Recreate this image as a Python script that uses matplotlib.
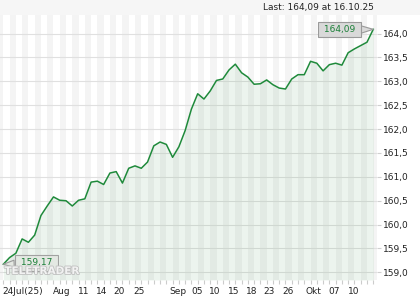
import matplotlib
matplotlib.use('Agg')
import matplotlib.pyplot as plt
from matplotlib.ticker import FixedLocator, FuncFormatter, MultipleLocator
import matplotlib.patheffects as pe
from matplotlib.patches import Rectangle

prices = [159.17, 159.31, 159.40, 159.70, 159.63, 159.78, 160.19, 160.39, 160.58, 160.51,
          160.50, 160.39, 160.51, 160.54, 160.89, 160.91, 160.84, 161.08, 161.11, 160.87,
          161.18, 161.23, 161.18, 161.31, 161.65, 161.73, 161.68, 161.41, 161.63, 161.97,
          162.42, 162.74, 162.63, 162.80, 163.02, 163.05, 163.24, 163.36, 163.18, 163.09,
          162.94, 162.95, 163.03, 162.93, 162.86, 162.84, 163.05, 163.14, 163.14, 163.42,
          163.38, 163.22, 163.35, 163.38, 163.34, 163.60, 163.68, 163.75, 163.82, 164.09]
x_labels = ['24Jul(25)', 'Aug', '11', '14', '20', '25', 'Sep', '05', '10', '15', '18',
            '23', '26', 'Okt', '07', '10']
x_label_pos = [-0.1, 9.31, 12.76, 15.63, 18.45, 21.59, 27.91, 30.85, 33.76, 36.71, 39.54,
               42.46, 45.37, 49.43, 52.82, 55.82]
header_text = 'Last: 164,09 at 16.10.25'
first_label = '159,17'
last_label = '164,09'
watermark = 'TELETRADER'

FS = 6.5
plt.rcParams['font.family'] = ['DejaVu Sans']

W, H = 420, 300
fig = plt.figure(figsize=(W / 100, H / 100), dpi=100)
fig.patch.set_facecolor('white')
fig.patches.append(Rectangle((0, 1 - 15 / H), 1, 15 / H, transform=fig.transFigure,
                             facecolor='#f6f6f6', edgecolor='none', zorder=0))
ax = fig.add_axes([0, 20 / H, 376.7 / W, 265 / H])
ax.set_facecolor('white')

n = len(prices)
xs = list(range(n))
x_min, x_max = -0.53, n - 1 + 0.55
y_min, y_max = 158.84, 164.39
ax.set_xlim(x_min, x_max)
ax.set_ylim(y_min, y_max)

# alternating day stripes
ax.axvspan(x_min, 0, color='#f4f4f4', lw=0, zorder=0.1)
for i in range(1, n, 2):
    ax.axvspan(i, min(i + 1, x_max), color='#f4f4f4', lw=0, zorder=0.1)

ax.set_axisbelow(True)
ax.grid(axis='y', color='#e0e0e0', lw=0.8)
ax.grid(axis='x', visible=False)

ax.fill_between(xs, prices, y_min, color='#2e8b3e', alpha=0.085, lw=0, zorder=1)
ax.plot(xs, prices, color='#1f8a3b', lw=1.1, zorder=3, solid_joinstyle='round')

for s in ax.spines.values():
    s.set_visible(False)

# y axis right
ax.yaxis.tick_right()
ax.yaxis.set_major_locator(MultipleLocator(0.5))
ax.yaxis.set_major_formatter(FuncFormatter(lambda v, p: f'{v:.1f}'.replace('.', ',')))
ax.tick_params(axis='y', length=3, color='#d0d0d0', width=0.8, pad=1.5,
               labelsize=FS, labelcolor='#222222')

# x axis
ax.xaxis.set_major_locator(FixedLocator(x_label_pos))
ax.set_xticklabels(x_labels)
ax.xaxis.set_minor_locator(FixedLocator(xs))
ax.tick_params(axis='x', which='major', length=0, pad=5, labelsize=FS, labelcolor='#222222')
ax.tick_params(axis='x', which='minor', length=3, color='#cccccc', width=0.8)
ax.get_xticklabels()[0].set_horizontalalignment('left')

fig.text(374 / W, 1 - 7.5 / H, header_text, ha='right', va='center', fontsize=FS,
         color='#222222')

# value boxes
ax.annotate(' ' + last_label + ' ', xy=(n - 1, prices[-1]), xytext=(-34, -0.5),
            textcoords='offset pixels',
            ha='center', va='center', fontsize=FS, color='#1a7f37', zorder=5,
            bbox=dict(boxstyle='square,pad=0.35', fc='#d9d9d9', ec='#9a9a9a', lw=0.8),
            arrowprops=dict(arrowstyle='wedge,tail_width=0.8,shrink_factor=0.5',
                            fc='#d9d9d9', ec='#9a9a9a', lw=0.8, shrinkA=0, shrinkB=0))
ax.annotate(' ' + first_label + ' ', xy=(0, prices[0]), xytext=(33, 1.3),
            textcoords='offset pixels',
            ha='center', va='center', fontsize=FS, color='#1a7f37', zorder=5,
            bbox=dict(boxstyle='square,pad=0.35', fc='#e4e8e2', ec='#9a9a9a', lw=0.8, alpha=0.9),
            arrowprops=dict(arrowstyle='wedge,tail_width=0.8,shrink_factor=0.5',
                            fc='#e4e8e2', ec='#9a9a9a', lw=0.8, shrinkA=0, shrinkB=0))

fig.text(42 / W, 1 - 271 / H, watermark, ha='center', va='center', fontsize=7.5,
         fontweight='bold', color='#f2f2f2', zorder=6,
         path_effects=[pe.withStroke(linewidth=1.2, foreground='#c0c0c0')])

fig.savefig('out.png', dpi=100)
